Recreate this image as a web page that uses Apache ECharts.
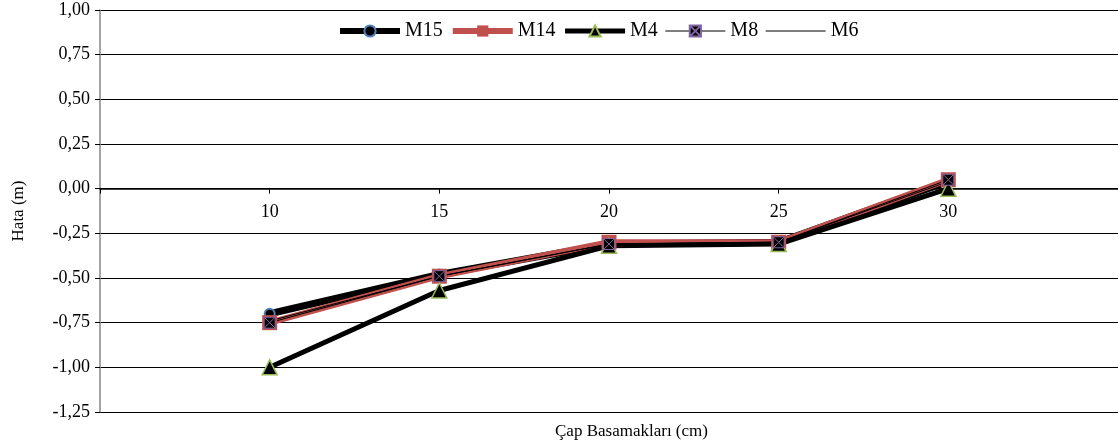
<!DOCTYPE html>
<html>
<head>
<meta charset="utf-8">
<script src="https://cdn.jsdelivr.net/npm/echarts@6/dist/echarts.min.js"></script>
<style>
  html, body { margin: 0; padding: 0; background: #fff; }
  #chart { width: 1118px; height: 448px; }
</style>
</head>
<body>
<div id="chart"></div>
<script>
// Çap basamakları (cm)
var diameters = [10, 15, 20, 25, 30];
// Hata (m)
var m15 = [-0.70, -0.48, -0.31, -0.30, 0.04];
var m14 = [-0.75, -0.49, -0.30, -0.30, 0.05];
var m4 = [-1.00, -0.57, -0.32, -0.31, 0.00];
var m8 = [-0.75, -0.49, -0.31, -0.30, 0.05];
var m6 = [-0.74, -0.49, -0.31, -0.30, 0.04];

function pairs(vals) {
  return diameters.map(function (d, i) { return [d, vals[i]]; });
}

var font = 'Liberation Serif';
var yMin = -1.25, yMax = 1;
var gridTop = 10, gridBottom = 36, chartH = 448;
// x axis sits on the y = 0 line
var plotH = chartH - gridTop - gridBottom;
var zeroOffset = -plotH * (0 - yMin) / (yMax - yMin);

var m8Symbol = 'path://M0,0H10V10H0Z M0,0L10,10 M10,0L0,10';

var myChart = echarts.init(document.getElementById('chart'));

var option = {
  animation: false,
  textStyle: { fontFamily: font },
  grid: { left: 100, right: 0, top: gridTop, bottom: gridBottom, outerBoundsMode: 'none' },
  legend: {
    top: 16,
    left: 332,
    itemWidth: 60,
    itemHeight: 14,
    itemGap: 7,
    textStyle: { fontFamily: font, fontSize: 20, color: '#000' },
    data: [
      { name: 'M15', lineStyle: { color: '#000', width: 6 } },
      { name: 'M14', lineStyle: { color: '#C0504D', width: 6 } },
      { name: 'M4', lineStyle: { color: '#000', width: 5 } },
      { name: 'M8', lineStyle: { color: '#000', width: 1 } },
      { name: 'M6', lineStyle: { color: '#000', width: 1 }, itemStyle: { opacity: 0 } }
    ]
  },
  graphic: [{
    type: 'text',
    left: 555,
    top: 423,
    style: { text: 'Çap Basamakları (cm)', font: '17px "Liberation Serif"', fill: '#000' }
  }],
  xAxis: {
    type: 'value',
    min: 5,
    max: 35,
    interval: 5,
    offset: zeroOffset,
    axisLine: { onZero: false, lineStyle: { color: '#000', width: 1.5 } },
    axisTick: { show: true, length: 5, lineStyle: { color: '#000' } },
    axisLabel: {
      margin: 15,
      fontFamily: font,
      fontSize: 18,
      color: '#000',
      formatter: function (v) { return (v === 5 || v === 35) ? '' : v; }
    },
    splitLine: { show: false }
  },
  yAxis: {
    type: 'value',
    min: yMin,
    max: yMax,
    interval: 0.25,
    name: 'Hata (m)',
    nameLocation: 'middle',
    nameRotate: 90,
    nameGap: 73,
    nameTextStyle: { fontFamily: font, fontSize: 17, color: '#000' },
    axisLine: { show: true, onZero: false, lineStyle: { color: '#868686', width: 1.5 } },
    axisTick: { show: true, length: 5, lineStyle: { color: '#000' } },
    axisLabel: {
      margin: 10,
      fontFamily: font,
      fontSize: 18,
      color: '#000',
      formatter: function (v) { return v.toFixed(2).replace('.', ','); }
    },
    splitLine: { show: true, lineStyle: { color: '#000', width: 1 } }
  },
  series: [
    {
      name: 'M15', type: 'line', data: pairs(m15),
      symbol: 'circle', symbolSize: 10,
      lineStyle: { color: '#000', width: 7 },
      itemStyle: { color: '#000', borderColor: '#4F81BD', borderWidth: 2 }
    },
    {
      name: 'M14', type: 'line', data: pairs(m14),
      symbol: 'rect', symbolSize: 15,
      lineStyle: { color: '#C0504D', width: 6 },
      itemStyle: { color: '#C0504D' }
    },
    {
      name: 'M4', type: 'line', data: pairs(m4),
      symbol: 'triangle', symbolSize: 15,
      lineStyle: { color: '#000', width: 5 },
      itemStyle: { color: '#000', borderColor: '#9BBB59', borderWidth: 1.5 }
    },
    {
      name: 'M8', type: 'line', data: pairs(m8),
      symbol: m8Symbol, symbolSize: 11,
      lineStyle: { color: '#000', width: 1 },
      itemStyle: { color: '#000', borderColor: '#8064A2', borderWidth: 1 }
    },
    {
      name: 'M6', type: 'line', data: pairs(m6),
      symbol: 'none',
      lineStyle: { color: '#000', width: 1 },
      itemStyle: { color: '#000' }
    }
  ]
};

myChart.setOption(option);
</script>
</body>
</html>
